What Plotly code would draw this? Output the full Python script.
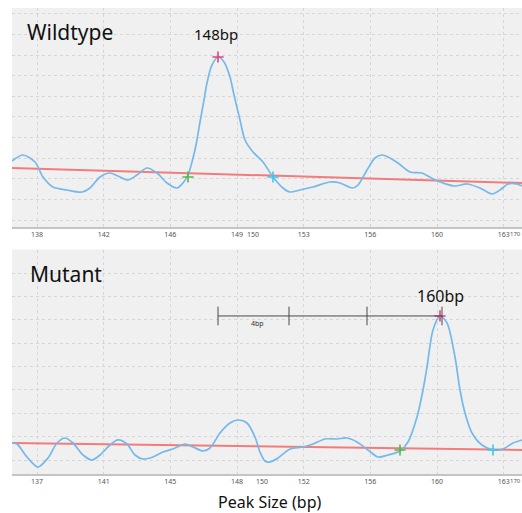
import plotly.graph_objects as go

# ---------------- data (scan position, RFU) ----------------
wt_scan = [3525, 3558, 3594, 3618, 3648, 3690, 3735, 3759, 3789, 3819, 3843, 3873, 3900, 3930,
           3960, 3990, 4020, 4038, 4053, 4065, 4077, 4089, 4101, 4110, 4125, 4143, 4161, 4179,
           4191, 4209, 4224, 4248, 4278, 4308, 4338, 4359, 4389, 4428, 4479, 4509, 4545, 4563,
           4590, 4614, 4635, 4653, 4683, 4719, 4755, 4788, 4818, 4854, 4890, 4929, 4965, 4989,
           5013, 5040, 5055]
wt_rfu = [1432, 1578, 1408, 1044, 801, 728, 680, 777, 1044, 1141, 1068, 971, 1092, 1262,
          1141, 898, 777, 898, 1092, 1408, 1820, 2378, 2912, 3325, 3762, 3956, 3835, 3471,
          3034, 2427, 1942, 1650, 1408, 1044, 777, 680, 728, 801, 922, 898, 777, 849,
          1214, 1505, 1578, 1529, 1383, 1165, 1141, 995, 898, 825, 874, 777, 631, 728,
          874, 874, 825]
wt_base_scan = [3525, 4200, 5055]
wt_base_rfu = [1262, 1100, 898]

mu_scan = [3525, 3540, 3570, 3603, 3633, 3660, 3684, 3708, 3738, 3765, 3789, 3819, 3843, 3870,
           3894, 3918, 3948, 3978, 4008, 4044, 4068, 4098, 4119, 4149, 4179, 4203, 4230, 4254,
           4269, 4284, 4299, 4323, 4359, 4398, 4428, 4464, 4500, 4530, 4560, 4593, 4623, 4653,
           4689, 4713, 4740, 4758, 4770, 4788, 4809, 4830, 4854, 4869, 4884, 4905, 4935, 4968,
           4998, 5028, 5055]
mu_rfu = [364, 343, 64, -150, 43, 364, 471, 364, 107, 0, 107, 321, 429, 343,
          107, 21, 64, 171, 236, 343, 279, 193, 257, 579, 793, 857, 793, 493,
          171, -21, -43, 43, 236, 279, 343, 450, 450, 471, 386, 214, 64, 107,
          193, 386, 921, 1500, 1993, 2786, 3086, 2936, 2207, 1500, 1007, 579, 321, 214,
          236, 364, 429]
mu_base_scan = [3525, 4270, 5055]
mu_base_rfu = [364, 290, 214]

# peak / boundary markers
wt_peak = (4143, 3956)
wt_start = (4053, 1044)
wt_end = (4308, 1044)
mu_peak = (4809, 3086)
mu_start = (4689, 214)
mu_end = (4968, 214)

# size ruler on mutant panel
ruler_scan = [4143, 4356, 4590, 4815]
ruler_rfu = 3086
ruler_half = 200

# axis tick labels
grid_scan = [3600, 3800, 4000, 4200, 4400, 4600, 4800, 5000]
wt_ticktext = ['138', '142', '146', '149', '153', '156', '160', '163']
mu_ticktext = ['137', '141', '145', '148', '152', '156', '160', '163']
wt_extra = [(4248, '150')]
mu_extra = [(4275, '150')]
edge_label = '170'

BLUE = '#74b9ea'
RED = '#f27c7c'
PINK = '#e2457e'
GREEN = '#54b848'
CYAN = '#3fc6ec'
FONT = 'Noto Sans'

fig = go.Figure()


def add_panel(xs, ys, bx, by, peak, start, end, xa, ya):
    fig.add_trace(go.Scatter(x=bx, y=by, mode='lines', line=dict(color=RED, width=2),
                             xaxis=xa, yaxis=ya, hoverinfo='skip'))
    fig.add_trace(go.Scatter(x=xs, y=ys, mode='lines', line=dict(color=BLUE, width=1.7, shape='spline', smoothing=0.8),
                             xaxis=xa, yaxis=ya))
    for pt, col in ((peak, PINK), (start, GREEN), (end, CYAN)):
        fig.add_trace(go.Scatter(x=[pt[0]], y=[pt[1]], mode='markers',
                                 marker=dict(symbol='cross-thin', size=8, color=col,
                                             line=dict(color=col, width=1.6)),
                                 xaxis=xa, yaxis=ya))


add_panel(wt_scan, wt_rfu, wt_base_scan, wt_base_rfu, wt_peak, wt_start, wt_end, 'x', 'y')
add_panel(mu_scan, mu_rfu, mu_base_scan, mu_base_rfu, mu_peak, mu_start, mu_end, 'x2', 'y2')

# ruler
rx, ry = [ruler_scan[0], ruler_scan[-1], None], [ruler_rfu, ruler_rfu, None]
for s in ruler_scan:
    rx += [s, s, None]
    ry += [ruler_rfu - ruler_half, ruler_rfu + ruler_half, None]
fig.add_trace(go.Scatter(x=rx, y=ry, mode='lines', line=dict(color='#4a4a4a', width=1),
                         xaxis='x2', yaxis='y2', hoverinfo='skip'))

W, H = 522, 513
xdom = [12 / W, 1]
xcommon = dict(range=[3525, 5055], showgrid=True, gridcolor='#d6d6d6', griddash='dot', gridwidth=1,
               tickmode='array', tickvals=grid_scan, ticks='', zeroline=False,
               showline=True, linecolor='#c4c4c4', linewidth=2,
               tickfont=dict(family=FONT, size=7, color='#555555'))
ycommon = dict(showgrid=True, gridcolor='#d6d6d6', griddash='dot', gridwidth=1, tick0=0, dtick=500,
               showticklabels=False, ticks='', zeroline=False, showline=False)

fig.update_layout(
    width=W, height=H, margin=dict(l=0, r=0, t=0, b=0),
    paper_bgcolor='white', plot_bgcolor='#f0f0f0', showlegend=False,
    xaxis=dict(domain=xdom, anchor='y', ticktext=wt_ticktext, **xcommon),
    yaxis=dict(domain=[1 - 227 / H, 1 - 8 / H], anchor='x', range=[-170, 5145], **ycommon),
    xaxis2=dict(domain=xdom, anchor='y2', ticktext=mu_ticktext, **xcommon),
    yaxis2=dict(domain=[1 - 474 / H, 1 - 249.5 / H], anchor='x2', range=[-300, 4510], **ycommon),
)

ann = []
ann.append(dict(text='Wildtype', xref='paper', yref='paper', x=25 / W, y=1 - 32 / H, xanchor='left', yanchor='middle',
                showarrow=False, font=dict(family=FONT, size=21, color='#111111')))
ann.append(dict(text='Mutant', xref='paper', yref='paper', x=28 / W, y=1 - 274 / H, xanchor='left', yanchor='middle',
                showarrow=False, font=dict(family=FONT, size=21, color='#111111')))
ann.append(dict(text='148bp', xref='x', yref='y', x=4137, y=4514, xanchor='center', yanchor='middle',
                showarrow=False, font=dict(family=FONT, size=15, color='#111111')))
ann.append(dict(text='160bp', xref='x2', yref='y2', x=4809, y=3514, xanchor='center', yanchor='middle',
                showarrow=False, font=dict(family=FONT, size=16, color='#111111')))
ann.append(dict(text='4bp', xref='x2', yref='y2', x=4262, y=2914, xanchor='center', yanchor='middle',
                showarrow=False, font=dict(family=FONT, size=7, color='#333333')))
ann.append(dict(text='Peak Size (bp)', xref='paper', yref='paper', x=269 / W, y=1 - 502 / H, xanchor='center',
                yanchor='middle', showarrow=False, font=dict(family=FONT, size=16, color='#111111')))
for (s, t) in wt_extra:
    ann.append(dict(text=t, xref='x', yref='paper', x=s, y=1 - 234 / H, xanchor='center', yanchor='middle',
                    showarrow=False, font=dict(family=FONT, size=7, color='#555555')))
for (s, t) in mu_extra:
    ann.append(dict(text=t, xref='x2', yref='paper', x=s, y=1 - 481 / H, xanchor='center', yanchor='middle',
                    showarrow=False, font=dict(family=FONT, size=7, color='#555555')))
for yy in (234, 481):
    ann.append(dict(text=edge_label, xref='paper', yref='paper', x=1.0, y=1 - yy / H, xanchor='right',
                    yanchor='middle', showarrow=False, borderpad=0,
                    font=dict(family=FONT, size=6, color='#555555')))
fig.update_layout(annotations=ann)

fig.write_html('out.html')
